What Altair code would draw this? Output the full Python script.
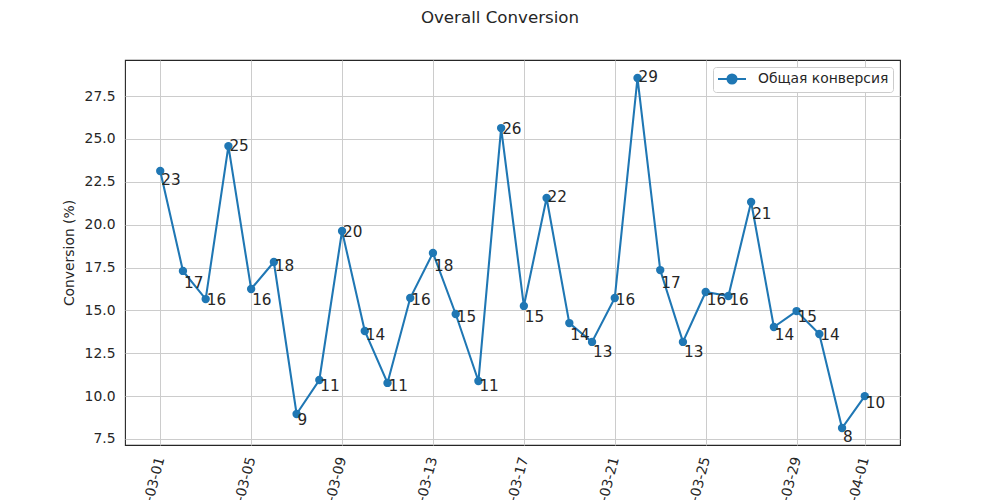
import altair as alt
import pandas as pd

# ---- data ----
dates = pd.date_range("2024-03-01", "2024-04-01", freq="D").strftime("%Y-%m-%d").tolist()
conversion = [23.13, 17.30, 15.66, 24.58, 16.25, 17.82, 8.96, 10.94, 19.63, 13.80,
              10.77, 15.72, 18.35, 14.79, 10.88, 25.63, 15.26, 21.55, 14.26, 13.16,
              15.72, 28.55, 17.35, 13.16, 16.07, 15.84, 21.32, 14.03, 14.96, 13.62,
              8.14, 10.00]
series_name = "Общая конверсия"
y_ticks = [7.5, 10.0, 12.5, 15.0, 17.5, 20.0, 22.5, 25.0, 27.5]
x_tick_days = [(3, 1), (3, 5), (3, 9), (3, 13), (3, 17), (3, 21), (3, 25), (3, 29), (4, 1)]

df = pd.DataFrame({"date": dates, "conversion": conversion, "series": series_name})

BLUE = "#1f77b4"
TEXT = "#262626"
FONT = "DejaVu Sans"

x_enc = alt.X(
    "date:T",
    scale=alt.Scale(
        type="utc",
        domain=[
            alt.DateTime(year=2024, month=2, date=28, hours=10, minutes=48, utc=True),
            alt.DateTime(year=2024, month=4, date=2, hours=13, minutes=12, utc=True),
        ],
    ),
    axis=alt.Axis(
        title=None,
        values=[alt.DateTime(year=2024, month=m, date=d, utc=True) for m, d in x_tick_days],
        format="%Y-%m-%d",
        labelAngle=-75,
        labelAlign="right",
        labelBaseline="middle",
        labelPadding=12,
        labelFontSize=13.89,
        labelColor=TEXT,
        labelFont=FONT,
        ticks=False,
        domain=False,
        grid=True,
        gridColor="#cccccc",
        gridWidth=1,
        labelOverlap=False,
        labelBound=False,
    ),
)

y_enc = alt.Y(
    "conversion:Q",
    scale=alt.Scale(domain=[7.15, 29.6], nice=False, zero=False),
    axis=alt.Axis(
        title="Conversion (%)",
        values=y_ticks,
        format=".1f",
        labelFontSize=13.89,
        labelColor=TEXT,
        labelFont=FONT,
        labelPadding=10,
        ticks=False,
        domain=False,
        grid=True,
        gridColor="#cccccc",
        gridWidth=1,
        titleFont=FONT,
        titleFontSize=13.89,
        titleFontWeight="normal",
        titleColor=TEXT,
        titlePadding=8,
    ),
)

color_enc = alt.Color(
    "series:N",
    scale=alt.Scale(domain=[series_name], range=[BLUE]),
    legend=alt.Legend(
        title=None,
        orient="top-right",
        offset=7,
        symbolType="M-1,0L3,0M0.35,0A0.65,0.65,0,1,1,1.65,0A0.65,0.65,0,1,1,0.35,0Z",
        symbolSize=196,
        symbolStrokeWidth=2,
        symbolStrokeColor=BLUE,
        symbolFillColor=BLUE,
        labelFontSize=13.89,
        labelFont=FONT,
        labelColor=TEXT,
        labelOffset=25,
        fillColor="white",
        strokeColor="#cccccc",
        cornerRadius=3,
        padding=4,
    ),
)

base = alt.Chart(df)

line = base.mark_line(strokeWidth=2.08, color=BLUE).encode(x=x_enc, y=y_enc, color=color_enc)
points = base.mark_point(filled=True, size=70, opacity=1, color=BLUE).encode(x=x_enc, y=y_enc, color=color_enc)
labels = base.transform_calculate(
    label_y="round(datum.conversion)"
).mark_text(
    align="left", baseline="top", dx=1, fontSize=15.28, font=FONT, color=TEXT
).encode(
    x=x_enc,
    y=alt.Y("label_y:Q", scale=alt.Scale(domain=[7.15, 29.6], nice=False, zero=False)),
    text=alt.Text("label_y:Q", format="d"),
)

chart = (
    alt.layer(line, points, labels)
    .properties(
        width=775,
        height=385,
        autosize=alt.AutoSizeParams(type="none"),
        padding={"left": 117, "top": 52, "right": 92, "bottom": 55},
        title=alt.TitleParams(
            "Overall Conversion",
            anchor="middle",
            dx=-12.5,
            offset=33,
            font=FONT,
            fontSize=16.67,
            fontWeight="normal",
            color=TEXT,
        ),
    )
    .configure_view(stroke=TEXT, strokeWidth=1.1)
)

chart.save("out.html", embed_options={"renderer": "svg", "actions": False})
